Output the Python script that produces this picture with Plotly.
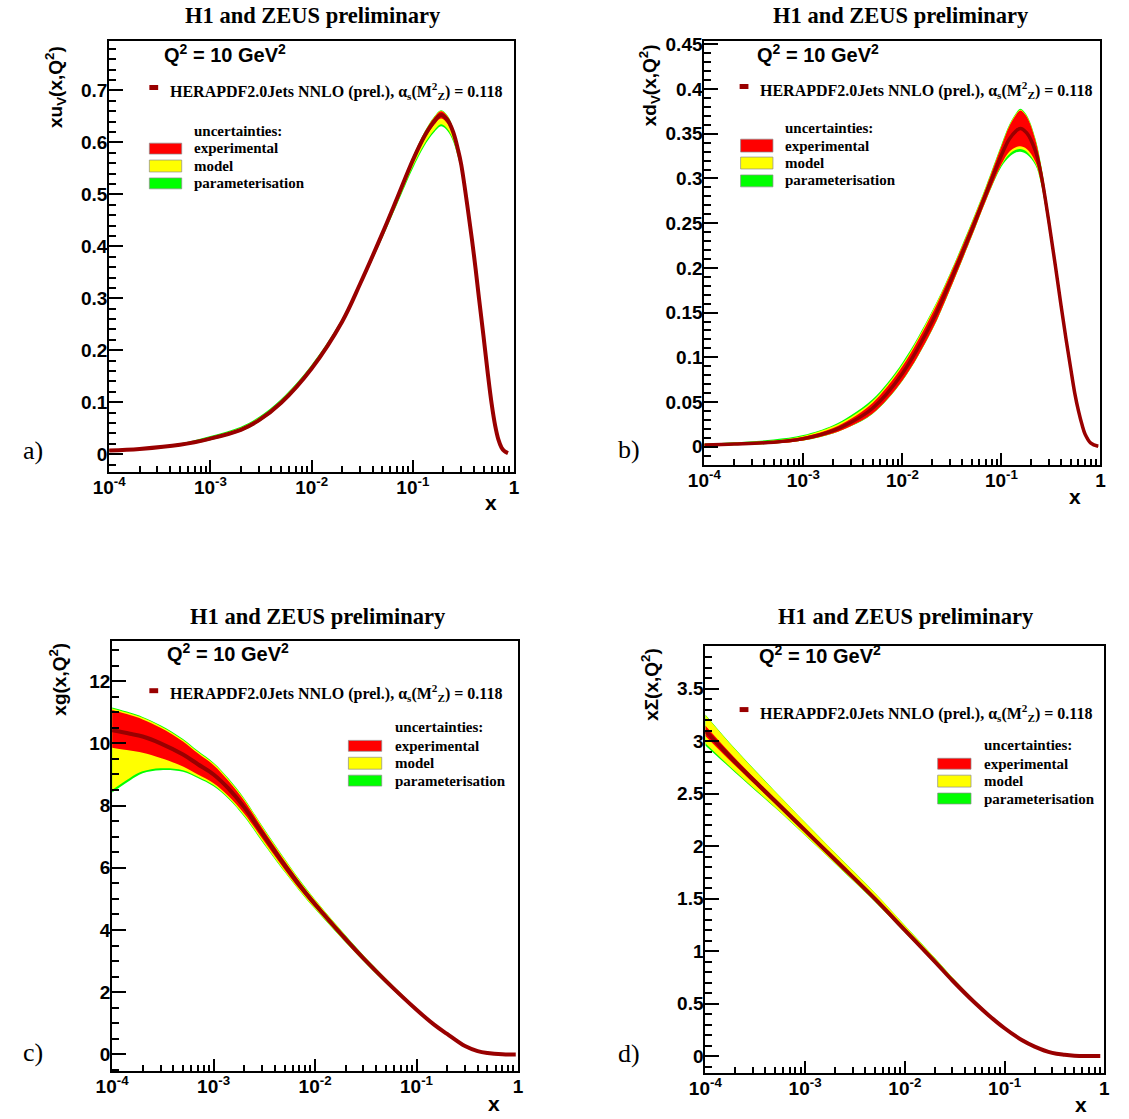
import plotly.graph_objects as go

W, H = 1129, 1119

# ---------------- data ----------------
# panel a: x u_v(x,Q^2)
x_uv = [1e-4, 2e-4, 5e-4, 1e-3, 2e-3, 3e-3, 5e-3, 0.01, 0.02, 0.03, 0.05, 0.07, 0.1, 0.13, 0.16,
        0.19, 0.22, 0.25, 0.28, 0.3, 0.35, 0.4, 0.45, 0.5, 0.55, 0.6, 0.65, 0.7, 0.75, 0.8, 0.87]
uv_c = [0.007, 0.010, 0.018, 0.030, 0.047, 0.065, 0.099, 0.165, 0.255, 0.327, 0.425, 0.493, 0.566, 0.612, 0.639,
        0.653, 0.643, 0.620, 0.585, 0.558, 0.47, 0.385, 0.30, 0.225, 0.155, 0.097, 0.055, 0.028, 0.013, 0.006, 0.002]
uv_red = [0.001, 0.001, 0.001, 0.001, 0.001, 0.0012, 0.0015, 0.002, 0.002, 0.002, 0.003, 0.004, 0.005, 0.006, 0.007,
          0.007, 0.007, 0.006, 0.006, 0.005, 0.004, 0.004, 0.003, 0.003, 0.003, 0.002, 0.0015, 0.001, 0.0007, 0.0005, 0.0003]
uv_yel_up = [0.0015, 0.0015, 0.002, 0.003, 0.004, 0.0045, 0.005, 0.005, 0.004, 0.003, 0.004, 0.005, 0.006, 0.007, 0.008,
             0.008, 0.008, 0.007, 0.007, 0.006, 0.005, 0.005, 0.004, 0.004, 0.003, 0.003, 0.002, 0.0015, 0.001, 0.0007, 0.0005]
uv_yel_dn = [0.0015, 0.0015, 0.0015, 0.002, 0.002, 0.0025, 0.003, 0.003, 0.004, 0.005, 0.007, 0.009, 0.012, 0.015, 0.017,
             0.018, 0.017, 0.015, 0.013, 0.011, 0.008, 0.006, 0.005, 0.004, 0.003, 0.003, 0.002, 0.0015, 0.001, 0.0007, 0.0005]
uv_grn_up = [0.002, 0.002, 0.003, 0.005, 0.006, 0.0065, 0.007, 0.007, 0.006, 0.004, 0.005, 0.006, 0.007, 0.008, 0.009,
             0.009, 0.009, 0.008, 0.008, 0.007, 0.006, 0.005, 0.004, 0.004, 0.003, 0.003, 0.002, 0.0015, 0.001, 0.0007, 0.0005]
uv_grn_dn = [0.002, 0.002, 0.002, 0.003, 0.003, 0.0035, 0.004, 0.004, 0.005, 0.006, 0.009, 0.012, 0.016, 0.019, 0.021,
             0.022, 0.021, 0.018, 0.015, 0.013, 0.009, 0.007, 0.005, 0.004, 0.003, 0.003, 0.002, 0.0015, 0.001, 0.0007, 0.0005]

# panel b: x d_v(x,Q^2)
x_dv = [1e-4, 2e-4, 5e-4, 1e-3, 2e-3, 3e-3, 5e-3, 0.01, 0.02, 0.03, 0.05, 0.07, 0.1, 0.12, 0.14,
        0.155, 0.18, 0.22, 0.25, 0.3, 0.35, 0.4, 0.45, 0.5, 0.55, 0.6, 0.65, 0.7, 0.8, 0.95]
dv_c = [0.002, 0.003, 0.005, 0.009, 0.018, 0.027, 0.043, 0.082, 0.14, 0.183, 0.242, 0.283, 0.326, 0.344, 0.353,
        0.356, 0.351, 0.331, 0.306, 0.253, 0.203, 0.158, 0.12, 0.088, 0.06, 0.04, 0.025, 0.014, 0.004, 0.0005]
dv_red = [0.001, 0.0012, 0.0015, 0.002, 0.003, 0.004, 0.006, 0.008, 0.009, 0.008, 0.007, 0.007, 0.01, 0.014, 0.018,
          0.02, 0.018, 0.012, 0.009, 0.007, 0.005, 0.004, 0.003, 0.003, 0.002, 0.002, 0.0015, 0.001, 0.0005, 0.0002]
dv_yel_up = [0.0012, 0.0015, 0.002, 0.003, 0.005, 0.006, 0.008, 0.01, 0.011, 0.009, 0.008, 0.008, 0.011, 0.015, 0.019,
             0.021, 0.019, 0.013, 0.01, 0.008, 0.006, 0.005, 0.004, 0.003, 0.002, 0.002, 0.0015, 0.001, 0.0005, 0.0002]
dv_yel_dn = [0.001, 0.0012, 0.0015, 0.002, 0.003, 0.004, 0.006, 0.008, 0.009, 0.008, 0.007, 0.007, 0.011, 0.017, 0.021,
             0.023, 0.021, 0.014, 0.01, 0.008, 0.006, 0.005, 0.004, 0.003, 0.002, 0.002, 0.0015, 0.001, 0.0005, 0.0002]
dv_grn_up = [0.0015, 0.002, 0.003, 0.004, 0.006, 0.008, 0.01, 0.012, 0.012, 0.01, 0.009, 0.009, 0.012, 0.016, 0.02,
             0.022, 0.02, 0.014, 0.011, 0.008, 0.006, 0.005, 0.004, 0.003, 0.002, 0.002, 0.0015, 0.001, 0.0005, 0.0002]
dv_grn_dn = [0.0011, 0.0013, 0.0016, 0.0022, 0.0032, 0.0042, 0.0063, 0.0085, 0.0095, 0.0085, 0.0075, 0.0075, 0.013, 0.02, 0.024,
             0.026, 0.024, 0.016, 0.011, 0.009, 0.006, 0.005, 0.004, 0.003, 0.002, 0.002, 0.0015, 0.001, 0.0005, 0.0002]

# panel c: x g(x,Q^2)
x_g = [1e-4, 1.5e-4, 2e-4, 3e-4, 5e-4, 7e-4, 1e-3, 1.4e-3, 2e-3, 3e-3, 5e-3, 7e-3, 0.01, 0.02, 0.03, 0.05,
       0.1, 0.15, 0.2, 0.3, 0.4, 0.5, 0.7, 0.95]
g_c = [10.42, 10.31, 10.22, 10.0, 9.64, 9.33, 9.0, 8.55, 7.95, 7.12, 6.09, 5.45, 4.83, 3.71, 3.09, 2.36,
       1.44, 0.95, 0.66, 0.27, 0.11, 0.05, 0.008, 0.0]
g_red_up = [0.65, 0.6, 0.55, 0.5, 0.42, 0.35, 0.3, 0.25, 0.21, 0.17, 0.14, 0.12, 0.1, 0.08, 0.07, 0.06,
            0.04, 0.035, 0.03, 0.02, 0.012, 0.008, 0.004, 0.0]
g_red_dn = [0.56, 0.54, 0.52, 0.47, 0.38, 0.33, 0.28, 0.24, 0.2, 0.17, 0.14, 0.12, 0.1, 0.08, 0.07, 0.06,
            0.04, 0.035, 0.03, 0.02, 0.012, 0.008, 0.004, 0.0]
g_yel_up = [0.7, 0.65, 0.6, 0.55, 0.47, 0.4, 0.35, 0.3, 0.26, 0.22, 0.19, 0.16, 0.14, 0.11, 0.09, 0.08,
            0.05, 0.045, 0.04, 0.025, 0.015, 0.01, 0.005, 0.0]
g_yel_dn = [1.92, 1.42, 1.12, 0.8, 0.5, 0.4, 0.34, 0.3, 0.27, 0.24, 0.2, 0.17, 0.14, 0.1, 0.085, 0.07,
            0.045, 0.04, 0.033, 0.022, 0.014, 0.009, 0.004, 0.0]
g_grn_up = [0.73, 0.68, 0.63, 0.58, 0.5, 0.43, 0.38, 0.33, 0.29, 0.24, 0.21, 0.18, 0.15, 0.12, 0.1, 0.085,
            0.055, 0.048, 0.042, 0.026, 0.016, 0.011, 0.005, 0.0]
g_grn_dn = [2.0, 1.5, 1.18, 0.86, 0.55, 0.44, 0.38, 0.33, 0.3, 0.27, 0.22, 0.185, 0.155, 0.11, 0.09, 0.075,
            0.05, 0.043, 0.035, 0.024, 0.015, 0.01, 0.005, 0.0]

# panel d: x Sigma(x,Q^2)
x_s = [1e-4, 2e-4, 5e-4, 1e-3, 2e-3, 5e-3, 0.01, 0.02, 0.03, 0.05, 0.07, 0.1, 0.15, 0.2,
       0.3, 0.4, 0.5, 0.7, 0.91]
s_c = [3.10, 2.80, 2.43, 2.15, 1.87, 1.50, 1.20, 0.90, 0.72, 0.51, 0.385, 0.265, 0.15, 0.09,
       0.03, 0.012, 0.004, 0.0005, 0.0]
s_red = [0.05, 0.035, 0.025, 0.02, 0.018, 0.015, 0.012, 0.01, 0.009, 0.008, 0.007, 0.006, 0.005, 0.004,
         0.003, 0.002, 0.001, 0.0005, 0.0]
s_yel_up = [0.15, 0.12, 0.09, 0.075, 0.065, 0.055, 0.045, 0.035, 0.028, 0.02, 0.015, 0.012, 0.008, 0.006,
            0.004, 0.003, 0.002, 0.001, 0.0]
s_yel_dn = [0.12, 0.09, 0.06, 0.045, 0.035, 0.027, 0.022, 0.017, 0.014, 0.011, 0.009, 0.008, 0.006, 0.005,
            0.003, 0.002, 0.001, 0.0005, 0.0]
s_grn_up = [0.155, 0.125, 0.094, 0.078, 0.067, 0.057, 0.047, 0.036, 0.029, 0.021, 0.016, 0.013, 0.009, 0.007,
            0.004, 0.003, 0.002, 0.001, 0.0]
s_grn_dn = [0.14, 0.1, 0.065, 0.048, 0.037, 0.029, 0.023, 0.018, 0.015, 0.012, 0.01, 0.009, 0.007, 0.005,
            0.003, 0.002, 0.001, 0.0005, 0.0]

y_titles = ["xu<sub>V</sub>(x,Q<sup>2</sup>)", "xd<sub>V</sub>(x,Q<sup>2</sup>)",
            "xg(x,Q<sup>2</sup>)", "x\u03a3(x,Q<sup>2</sup>)"]
panel_tags = ["a)", "b)", "c)", "d)"]
x_tickvals = [1e-4, 1e-3, 1e-2, 1e-1, 1]
x_ticktext = ["10<sup>-4</sup>", "10<sup>-3</sup>", "10<sup>-2</sup>", "10<sup>-1</sup>", "1"]
title_text = "H1 and ZEUS preliminary"
q2_text = "Q<sup>2</sup> = 10 GeV<sup>2</sup>"
fit_text = "HERAPDF2.0Jets NNLO (prel.), \u03b1<sub>s</sub>(M<sup>2</sup><sub>Z</sub>) = 0.118"
unc_header = "uncertainties:"
unc_labels = ["experimental", "model", "parameterisation"]

# ---------------- styling ----------------
DARK = "#990000"
COLS = {"red": "#ff0000", "yel": "#ffff00", "grn": "#00ff00"}
SANS = "Liberation Sans"
SERIF = "Liberation Serif"


def px(x):
    return x / W


def py(y):
    return 1 - y / H


fig = go.Figure()

panels = [
    dict(xs=x_uv, c=uv_c, ru=uv_red, rd=uv_red, yu=uv_yel_up, yd=uv_yel_dn, gu=uv_grn_up, gd=uv_grn_dn,
         box=(95, 508, 34, 468), yr=[-0.0344, 0.7956], dt=0.1, mdt=0.02, lw=4,
         title=(303, 9), ytitle=(41, 37), tag=(5, 446), xlab=(484, 499),
         q2=(149, 47), dash=(136, 145, 81), fit=(155, 85), unc=(180, 125),
         boxes=(136, 169, [(137, 148), (154, 166), (172, 183)]), labs=[142, 159.5, 177]),
    dict(xs=x_dv, c=dv_c, ru=dv_red, rd=dv_red, yu=dv_yel_up, yd=dv_yel_dn, gu=dv_grn_up, gd=dv_grn_dn,
         box=(702, 1106, 34, 461), yr=[-0.0206, 0.454], dt=0.05, mdt=0.01, lw=3.5,
         title=(903, 9), ytitle=(646, 35), tag=(612, 445), xlab=(1080, 493),
         q2=(754, 47), dash=(738, 747, 80), fit=(757, 84), unc=(782, 122),
         boxes=(739, 772, [(133, 146), (151, 163), (169, 181)]), labs=[139.5, 157, 174.5]),
    dict(xs=x_g, c=g_c, ru=g_red_up, rd=g_red_dn, yu=g_yel_up, yd=g_yel_dn, gu=g_grn_up, gd=g_grn_dn,
         box=(98, 512, 638, 1071), yr=[-0.54, 13.29], dt=2, mdt=0.5, lw=4,
         title=(308, 613), ytitle=(42, 638), tag=(5, 1052), xlab=(488, 1103),
         q2=(152, 650), dash=(136, 145, 688), fit=(155, 690), unc=(384, 725),
         boxes=(339, 373, [(738, 749), (755, 767), (773, 784)]), labs=[743.5, 761, 778.5]),
    dict(xs=x_s, c=s_c, ru=s_red, rd=s_red, yu=s_yel_up, yd=s_yel_dn, gu=s_grn_up, gd=s_grn_dn,
         box=(703, 1110, 643, 1073), yr=[-0.164, 3.907], dt=0.5, mdt=0.1, lw=4,
         title=(908, 613), ytitle=(647, 643), tag=(612, 1053), xlab=(1086, 1104),
         q2=(756, 652), dash=(738, 747, 707), fit=(757, 710), unc=(985, 743),
         boxes=(940, 974, [(756, 767), (773, 785), (791, 802)]), labs=[761.5, 779, 796.5]),
]

minor_x = [m * 10.0 ** e for e in range(-4, 0) for m in range(2, 10)]

annotations = []
shapes = []


def ann(text, x, y, size, family, xanchor="left", yanchor="middle", bold=True, angle=0):
    annotations.append(dict(text=text, x=px(x), y=py(y), xref="paper", yref="paper",
                            xanchor=xanchor, yanchor=yanchor, showarrow=False, textangle=angle,
                            font=dict(family=family, size=size, color="black",
                                      weight="bold" if bold else "normal")))


for i, p in enumerate(panels):
    n = "" if i == 0 else str(i + 1)
    xa, ya = "x" + n, "y" + n
    xs, c = p["xs"], p["c"]
    layers = [(p["gd"], p["gu"], COLS["grn"]), (p["yd"], p["yu"], COLS["yel"]), (p["rd"], p["ru"], COLS["red"])]
    for dn, up, col in layers:
        lo = [ci - o for ci, o in zip(c, dn)]
        hi = [ci + o for ci, o in zip(c, up)]
        fig.add_trace(go.Scatter(x=xs, y=lo, mode="lines", line=dict(width=0, color=col, shape="spline"),
                                 xaxis=xa, yaxis=ya, showlegend=False, hoverinfo="skip"))
        fig.add_trace(go.Scatter(x=xs, y=hi, mode="lines", line=dict(width=0, color=col, shape="spline"),
                                 fill="tonexty", fillcolor=col, xaxis=xa, yaxis=ya,
                                 showlegend=False, hoverinfo="skip"))
    fig.add_trace(go.Scatter(x=xs, y=c, mode="lines", line=dict(width=p["lw"], color=DARK, shape="spline"),
                             xaxis=xa, yaxis=ya, showlegend=False))

    x0, x1, y0, y1 = p["box"]
    fig.update_layout(**{
        "xaxis" + n: dict(
            type="log", range=[-4, 0], domain=[px(x0), px(x1)], anchor=ya,
            tickmode="array", tickvals=x_tickvals, ticktext=x_ticktext,
            ticks="inside", ticklen=12, tickwidth=1.8, tickcolor="black",
            showline=True, linewidth=2, linecolor="black", mirror=True,
            showgrid=False, zeroline=False, ticklabelstandoff=-3,
            tickfont=dict(family=SANS, size=19, color="black", weight="bold"),
            minor=dict(tickmode="array", tickvals=minor_x, ticks="inside", ticklen=6,
                       tickwidth=1.5, tickcolor="black", showgrid=False),
        ),
        "yaxis" + n: dict(
            range=p["yr"], domain=[py(y1), py(y0)], anchor=xa,
            tick0=0, dtick=p["dt"], ticks="inside", ticklen=14, tickwidth=1.8, tickcolor="black",
            showline=True, linewidth=2, linecolor="black", mirror=True,
            showgrid=False, zeroline=False, ticklabelstandoff=-4,
            tickfont=dict(family=SANS, size=19, color="black", weight="bold"),
            minor=dict(dtick=p["mdt"], ticks="inside", ticklen=7, tickwidth=1.5,
                       tickcolor="black", showgrid=False),
        ),
    })

    ann(title_text, p["title"][0], p["title"][1], 22.5, SERIF, xanchor="center")
    ann(y_titles[i], p["ytitle"][0], p["ytitle"][1], 19, SANS, xanchor="center", yanchor="top", angle=-90)
    ann(panel_tags[i], p["tag"][0], p["tag"][1], 26, SERIF, bold=False)
    ann("x", p["xlab"][0], p["xlab"][1], 21, SANS, xanchor="center")
    ann(q2_text, p["q2"][0], p["q2"][1], 20, SANS)
    ann(fit_text, p["fit"][0], p["fit"][1], 16, SERIF)
    ann(unc_header, p["unc"][0], p["unc"][1], 15, SERIF)
    for lab, yy in zip(unc_labels, p["labs"]):
        ann(lab, p["unc"][0], yy, 15, SERIF)

    dx0, dx1, dy = p["dash"]
    shapes.append(dict(type="rect", xref="paper", yref="paper", x0=px(dx0), x1=px(dx1),
                       y0=py(dy + 2.5), y1=py(dy - 2.5), fillcolor=DARK, line=dict(width=0)))
    bx0, bx1, rows = p["boxes"]
    for (r0, r1), col in zip(rows, [COLS["red"], COLS["yel"], COLS["grn"]]):
        shapes.append(dict(type="rect", xref="paper", yref="paper", x0=px(bx0), x1=px(bx1),
                           y0=py(r1), y1=py(r0), fillcolor=col,
                           line=dict(width=1, color="rgba(140,140,140,0.7)")))

fig.update_layout(width=W, height=H, margin=dict(l=0, r=0, t=0, b=0),
                  paper_bgcolor="white", plot_bgcolor="white",
                  annotations=annotations, shapes=shapes, showlegend=False)

fig.write_html("out.html")
